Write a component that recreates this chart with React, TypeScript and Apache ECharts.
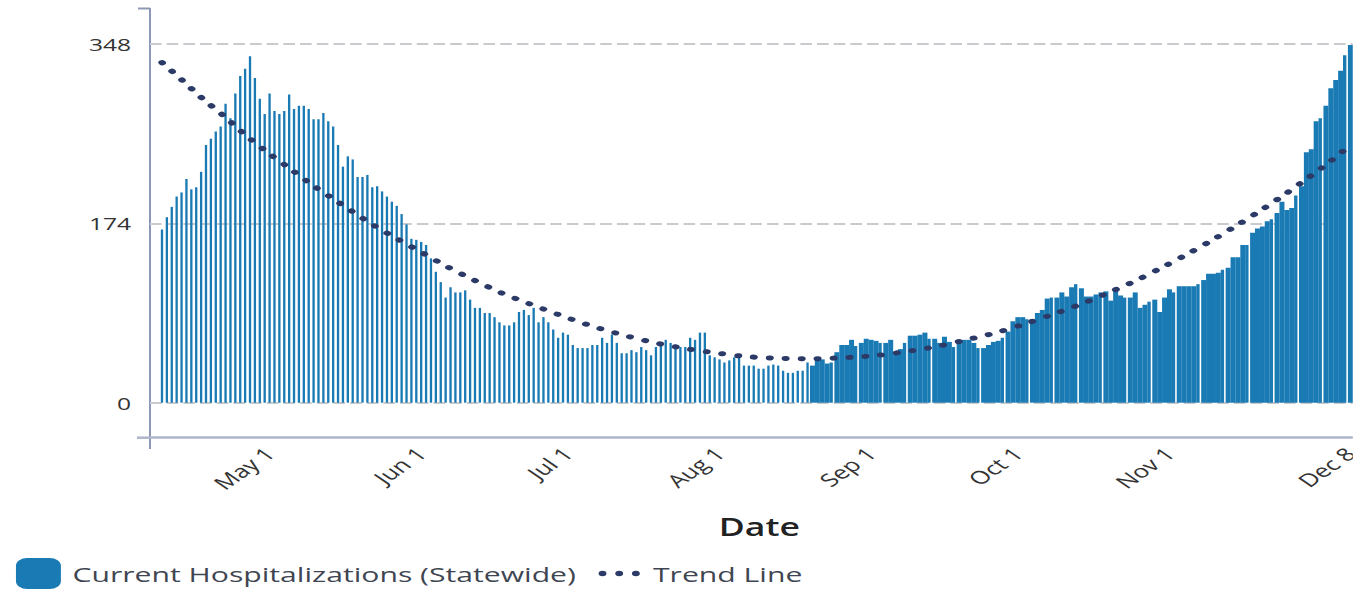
import { useEffect, useRef } from "react";
import * as echarts from "echarts";

// Daily values, day 0 = Apr 9 (last day = Dec 8)
const START_DATE = "Apr 9";
const hospitalizations = [
  168, 180, 190, 200, 204, 217, 207, 209, 224, 250,
  256, 263, 268, 290, 276, 300, 317, 324, 336, 315,
  295, 280, 300, 283, 280, 283, 299, 285, 288, 288,
  285, 275, 275, 281, 273, 268, 250, 229, 239, 236,
  219, 219, 221, 209, 210, 205, 200, 195, 191, 183,
  173, 159, 158, 156, 153, 140, 127, 117, 102, 112,
  107, 107, 109, 100, 92, 92, 87, 87, 83, 78,
  75, 75, 78, 88, 90, 85, 92, 78, 83, 78,
  71, 63, 68, 66, 56, 53, 53, 53, 56, 56,
  63, 58, 66, 58, 48, 48, 51, 49, 54, 51,
  46, 54, 56, 61, 58, 54, 54, 54, 63, 61,
  68, 68, 46, 44, 42, 39, 41, 44, 44, 36,
  36, 36, 33, 33, 36, 37, 36, 31, 29, 29,
  31, 31, 39, 36, 42, 42, 38, 39, 49, 56,
  56, 61, 55, 58, 62, 61, 60, 58, 58, 61,
  49, 52, 58, 65, 65, 66, 68, 62, 62, 58,
  64, 59, 54, 59, 61, 61, 58, 53, 53, 56,
  59, 60, 63, 69, 79, 83, 83, 81, 81, 87,
  90, 101, 102, 102, 107, 103, 112, 115, 111, 103,
  103, 105, 107, 108, 99, 109, 104, 102, 102, 107,
  92, 95, 98, 100, 88, 102, 110, 107, 113, 113,
  113, 113, 115, 119, 125, 125, 126, 129, 131, 141,
  141, 153, 153, 165, 169, 171, 176, 178, 184, 195,
  187, 189, 201, 210, 243, 246, 273, 276, 288, 305,
  313, 322, 337, 347,
];

// Trend line (day index, value)
const trendDays = [
  0, 4.1, 8.3, 12.7, 17, 21.4, 26.2, 30.8, 35.6, 43, 48.1, 53.2, 58.3, 63.8,
  69.2, 74.9, 83.6, 89.4, 95.3, 101.3, 107.6, 113.9, 119.9, 126.5, 133,
  139.3, 145.6, 151.9, 158.2, 164.3, 170.5, 176.4, 182.2, 188, 193.5, 199.1,
  204.4, 209.7, 214.8, 219.9, 224.8, 229.6, 234.4, 239, 243,
];
const trendValues = [
  330, 313, 295, 278, 260, 243.5, 227, 211, 196, 173, 159, 145.5, 132, 119,
  107, 96.4, 81.2, 72.2, 64.4, 57.6, 52.1, 47.9, 44.6, 43.1, 42.7,
  43.7, 45.6, 49.5, 54.3, 60.8, 67.9, 76.4, 85.8, 95.8, 106.7, 118.4,
  131, 144.3, 157.9, 172.4, 187, 202.2, 218.3, 234.5, 250,
];

const tickDays = [22, 53, 83, 114, 145, 175, 206, 243];
const tickLabels = ["May 1", "Jun 1", "Jul 1", "Aug 1", "Sep 1", "Oct 1", "Nov 1", "Dec 8"];
const yTicks = [0, 174, 348];

const BAR_NAME = "Current Hospitalizations (Statewide)";
const TREND_NAME = "Trend Line";

// layout / style constants
const SX = 1.45; // horizontal stretch of the reference picture
const FULL_W = 1353;
const H = 590;
const W = FULL_W / SX;
const WIDE_FROM = 133;
const GAP_FIRST = 137;
const GAP_EVERY = 5;
const BAR_COLOR = "#1a7ab4";
const TREND_COLOR = "#2b3a67";

export default function App() {
  const ref = useRef<HTMLDivElement>(null);

  useEffect(() => {
    if (!ref.current) return;
    const chart = echarts.init(ref.current, undefined, { renderer: "svg" });

    const thinData: number[][] = [];
    const gapData: number[][] = [];
    const wideData: number[][] = [];
    hospitalizations.forEach((v, i) => {
      if (i < WIDE_FROM) thinData.push([i, v]);
      else if (i >= GAP_FIRST && (i - GAP_FIRST) % GAP_EVERY === 0) gapData.push([i, v]);
      else wideData.push([i, v]);
    });

    const xMin = -2.45;
    const xMax = 243.5;
    const dotsPath =
      "path://M0,0L0.01,0L0.01,0.01Z M31,31L30.99,31L30.99,30.99Z " +
      "M1.5,15.5a2.7,2.7 0 1 0 5.4,0a2.7,2.7 0 1 0 -5.4,0Z " +
      "M13,15.5a2.7,2.7 0 1 0 5.4,0a2.7,2.7 0 1 0 -5.4,0Z " +
      "M24.5,15.5a2.7,2.7 0 1 0 5.4,0a2.7,2.7 0 1 0 -5.4,0Z";

    chart.setOption({
      animation: false,
      textStyle: { fontFamily: "Open Sans" },
      grid: {
        left: 150 / SX,
        right: 0,
        top: 44,
        bottom: H - 402.7,
        containLabel: false,
        outerBoundsMode: "none",
      },
      xAxis: [
        {
          type: "value",
          min: xMin,
          max: xMax,
          offset: 35,
          axisLine: { show: true, onZero: false, lineStyle: { color: "#aeb6ca", width: 2.5 } },
          axisTick: { show: false },
          splitLine: { show: false },
          axisLabel: {
            customValues: tickDays,
            formatter: (v: number) => {
              const k = tickDays.indexOf(Math.round(v));
              return k >= 0 ? tickLabels[k] : "";
            },
            rotate: 45,
            fontSize: 18,
            color: "#333",
            margin: 13,
          },
          name: "Date",
          nameLocation: "middle",
          nameGap: 76,
          nameTextStyle: { fontSize: 24.5, fontWeight: 600, color: "#222", padding: [0, 0, 0, 11] },
        },
        { type: "value", min: xMin, max: xMax, show: false },
      ],
      yAxis: {
        type: "value",
        min: yTicks[0],
        max: yTicks[2],
        interval: yTicks[1] - yTicks[0],
        axisLine: { show: false },
        axisTick: { show: false },
        axisLabel: { fontSize: 17, color: "#333", margin: 13 },
        splitLine: { show: true, lineStyle: { color: "#c9cace", width: 2, type: [8, 3.5] } },
      },
      legend: {
        left: 11,
        top: 558,
        padding: 0,
        itemWidth: 31,
        itemHeight: 31,
        itemGap: 14,
        textStyle: { fontSize: 20.8, color: "#3f4652", padding: [0, 0, 0, 3] },
        data: [
          { name: BAR_NAME, icon: "roundRect" },
          { name: TREND_NAME, icon: dotsPath, itemStyle: { color: TREND_COLOR, borderWidth: 0 } },
        ],
      },
      graphic: [
        {
          type: "line",
          silent: true,
          shape: { x1: 150 / SX, y1: 8, x2: 150 / SX, y2: 449 },
          style: { stroke: "#8d99b4", lineWidth: 2 / SX },
        },
        {
          type: "line",
          silent: true,
          shape: { x1: 138 / SX, y1: 8.5, x2: 150 / SX, y2: 8.5 },
          style: { stroke: "#8d99b4", lineWidth: 2 },
        },
        {
          type: "line",
          silent: true,
          shape: { x1: 137 / SX, y1: 437.7, x2: 150 / SX, y2: 437.7 },
          style: { stroke: "#aeb6ca", lineWidth: 2.5 },
        },
      ],
      series: [
        {
          name: BAR_NAME,
          type: "bar",
          xAxisIndex: 1,
          data: thinData,
          barWidth: 1.6,
          itemStyle: { color: BAR_COLOR },
        },
        {
          name: BAR_NAME,
          type: "bar",
          xAxisIndex: 0,
          data: gapData,
          barWidth: 2.3,
          barGap: "-100%",
          itemStyle: { color: BAR_COLOR },
        },
        {
          name: BAR_NAME,
          type: "bar",
          xAxisIndex: 0,
          data: wideData,
          barWidth: 3.45,
          barGap: "-100%",
          itemStyle: { color: BAR_COLOR },
        },
        {
          name: TREND_NAME,
          type: "line",
          xAxisIndex: 0,
          data: trendDays.map((d, i) => [d, trendValues[i]]),
          symbol: "none",
          smooth: 0.3,
          z: 10,
          color: TREND_COLOR,
          lineStyle: { color: TREND_COLOR, width: 5, type: [0.5, 10.5], cap: "round" },
        },
      ],
    });

    return () => chart.dispose();
  }, []);

  return (
    <div
      style={{ position: "absolute", left: 0, top: 0, width: FULL_W, height: H, overflow: "hidden", background: "#fff" }}
      data-start={START_DATE}
    >
      <div
        ref={ref}
        style={{ width: W, height: H, transform: `scaleX(${SX})`, transformOrigin: "0 0" }}
      />
    </div>
  );
}
